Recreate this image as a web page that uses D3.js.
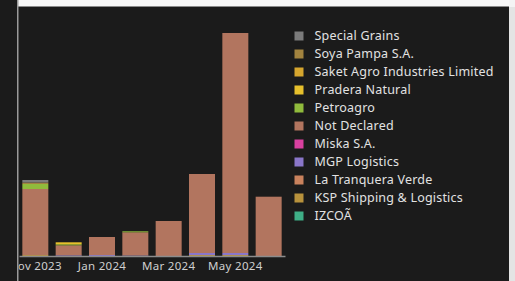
<!DOCTYPE html>
<html><head><meta charset="utf-8">
<script src="https://cdn.jsdelivr.net/npm/d3@7"></script>
<style>
html,body{margin:0;padding:0;background:#1b1b1b;overflow:hidden;}
svg{display:block;}
</style></head>
<body>
<svg id="c" width="515" height="281"></svg>
<script>
const months = ["Nov 2023","Dec 2023","Jan 2024","Feb 2024","Mar 2024","Apr 2024","May 2024","Jun 2024"];
const tickLabels = ["Nov 2023","Jan 2024","Mar 2024","May 2024"];
const seriesNames = ["IZCOÃ","KSP Shipping & Logistics","La Tranquera Verde","MGP Logistics","Miska S.A.","Not Declared","Petroagro","Pradera Natural","Saket Agro Industries Limited","Soya Pampa S.A.","Special Grains"];
const seriesColors = ["#3fae86","#b8923c","#c9825d","#8a76c9","#d9409f","#b2755f","#90bb3c","#e6c02c","#d6a62e","#a2833f","#7b7b7b"];
const izcoa        = [0,0,0,0,0,0,0,0];
const ksp          = [1,0,0,0,0,1,1,0];
const laTranquera  = [0,0,0,0,0,0,0,0];
const mgp          = [0,0.7,1,0.5,0,2,2,0];
const miska        = [0,0,0,0,0,0,0,0];
const notDeclared  = [66,10,18,23.2,35,79,220,59.3];
const petroagro    = [5,1,0,1,0,0,0,0];
const pradera      = [0,2,0,0,0,0,0,0];
const saket        = [0,0,0,0,0,0,0,0];
const soyaPampa    = [1.5,0,0,0,0,0,0,0];
const specialGrains= [2.5,0,0,0,0,0,0,0];
const seriesValues = [izcoa,ksp,laTranquera,mgp,miska,notDeclared,petroagro,pradera,saket,soyaPampa,specialGrains];

const table = months.map((m,i)=>{const o={month:m};seriesNames.forEach((s,j)=>o[s]=seriesValues[j][i]);return o;});

const svg = d3.select("#c");
// frame
svg.append("rect").attr("x",0).attr("y",0).attr("width",515).attr("height",281).attr("fill","#1b1b1b");
svg.append("rect").attr("x",18).attr("y",0).attr("width",491).attr("height",6).attr("fill","#f7f7f7");
svg.append("rect").attr("x",18).attr("y",6).attr("width",491).attr("height",1).attr("fill","#8a8a8a");
svg.append("rect").attr("x",509).attr("y",0).attr("width",6).attr("height",281).attr("fill","#e4e4e4");
svg.append("rect").attr("x",509).attr("y",0).attr("width",6).attr("height",7).attr("fill","#f4f4f4");
svg.append("rect").attr("x",17).attr("y",0).attr("width",1.5).attr("height",281).attr("fill","#9a9a9a");

svg.append("defs").append("clipPath").attr("id","clip").append("rect")
  .attr("x",18.5).attr("y",7).attr("width",490).attr("height",274);
const g = svg.append("g").attr("clip-path","url(#clip)");

const x = d3.scaleBand().domain(months).range([19,285]).paddingInner(0.22).paddingOuter(0.1);
const y = d3.scaleLinear().domain([0,240]).range([256,16]);
const color = d3.scaleOrdinal().domain(seriesNames).range(seriesColors);
const stack = d3.stack().keys(seriesNames)(table);

g.selectAll("g.s").data(stack).join("g").attr("class","s").attr("fill",d=>color(d.key))
 .selectAll("rect").data(d=>d).join("rect")
 .attr("x",d=>x(d.data.month)).attr("width",x.bandwidth())
 .attr("y",d=>y(d[1])).attr("height",d=>Math.max(0,y(d[0])-y(d[1])));

const ax = g.append("g").attr("transform","translate(0,256)")
  .call(d3.axisBottom(x).tickValues(tickLabels).tickSize(0).tickPadding(6));
ax.select(".domain").attr("stroke","#8c8c8c").attr("stroke-width",1.5);
ax.selectAll("text").attr("fill","#cfcfcf").attr("font-family","'Noto Sans', sans-serif")
  .attr("font-size","11.5px").attr("letter-spacing","0.3px");

// legend
const leg = svg.append("g");
const legendOrder = seriesNames.slice().reverse();
legendOrder.forEach((s,i)=>{
  const yy = 36 + i*18;
  leg.append("rect").attr("x",294.5).attr("y",yy-4.5).attr("width",9).attr("height",9).attr("fill",color(s));
  leg.append("text").attr("x",314.5).attr("y",yy).attr("dy","0.35em").attr("fill","#e2e2e2")
   .attr("font-family","'Noto Sans', sans-serif").attr("font-size","12.5px").attr("letter-spacing","0.2px").text(s);
});
</script>
</body></html>
